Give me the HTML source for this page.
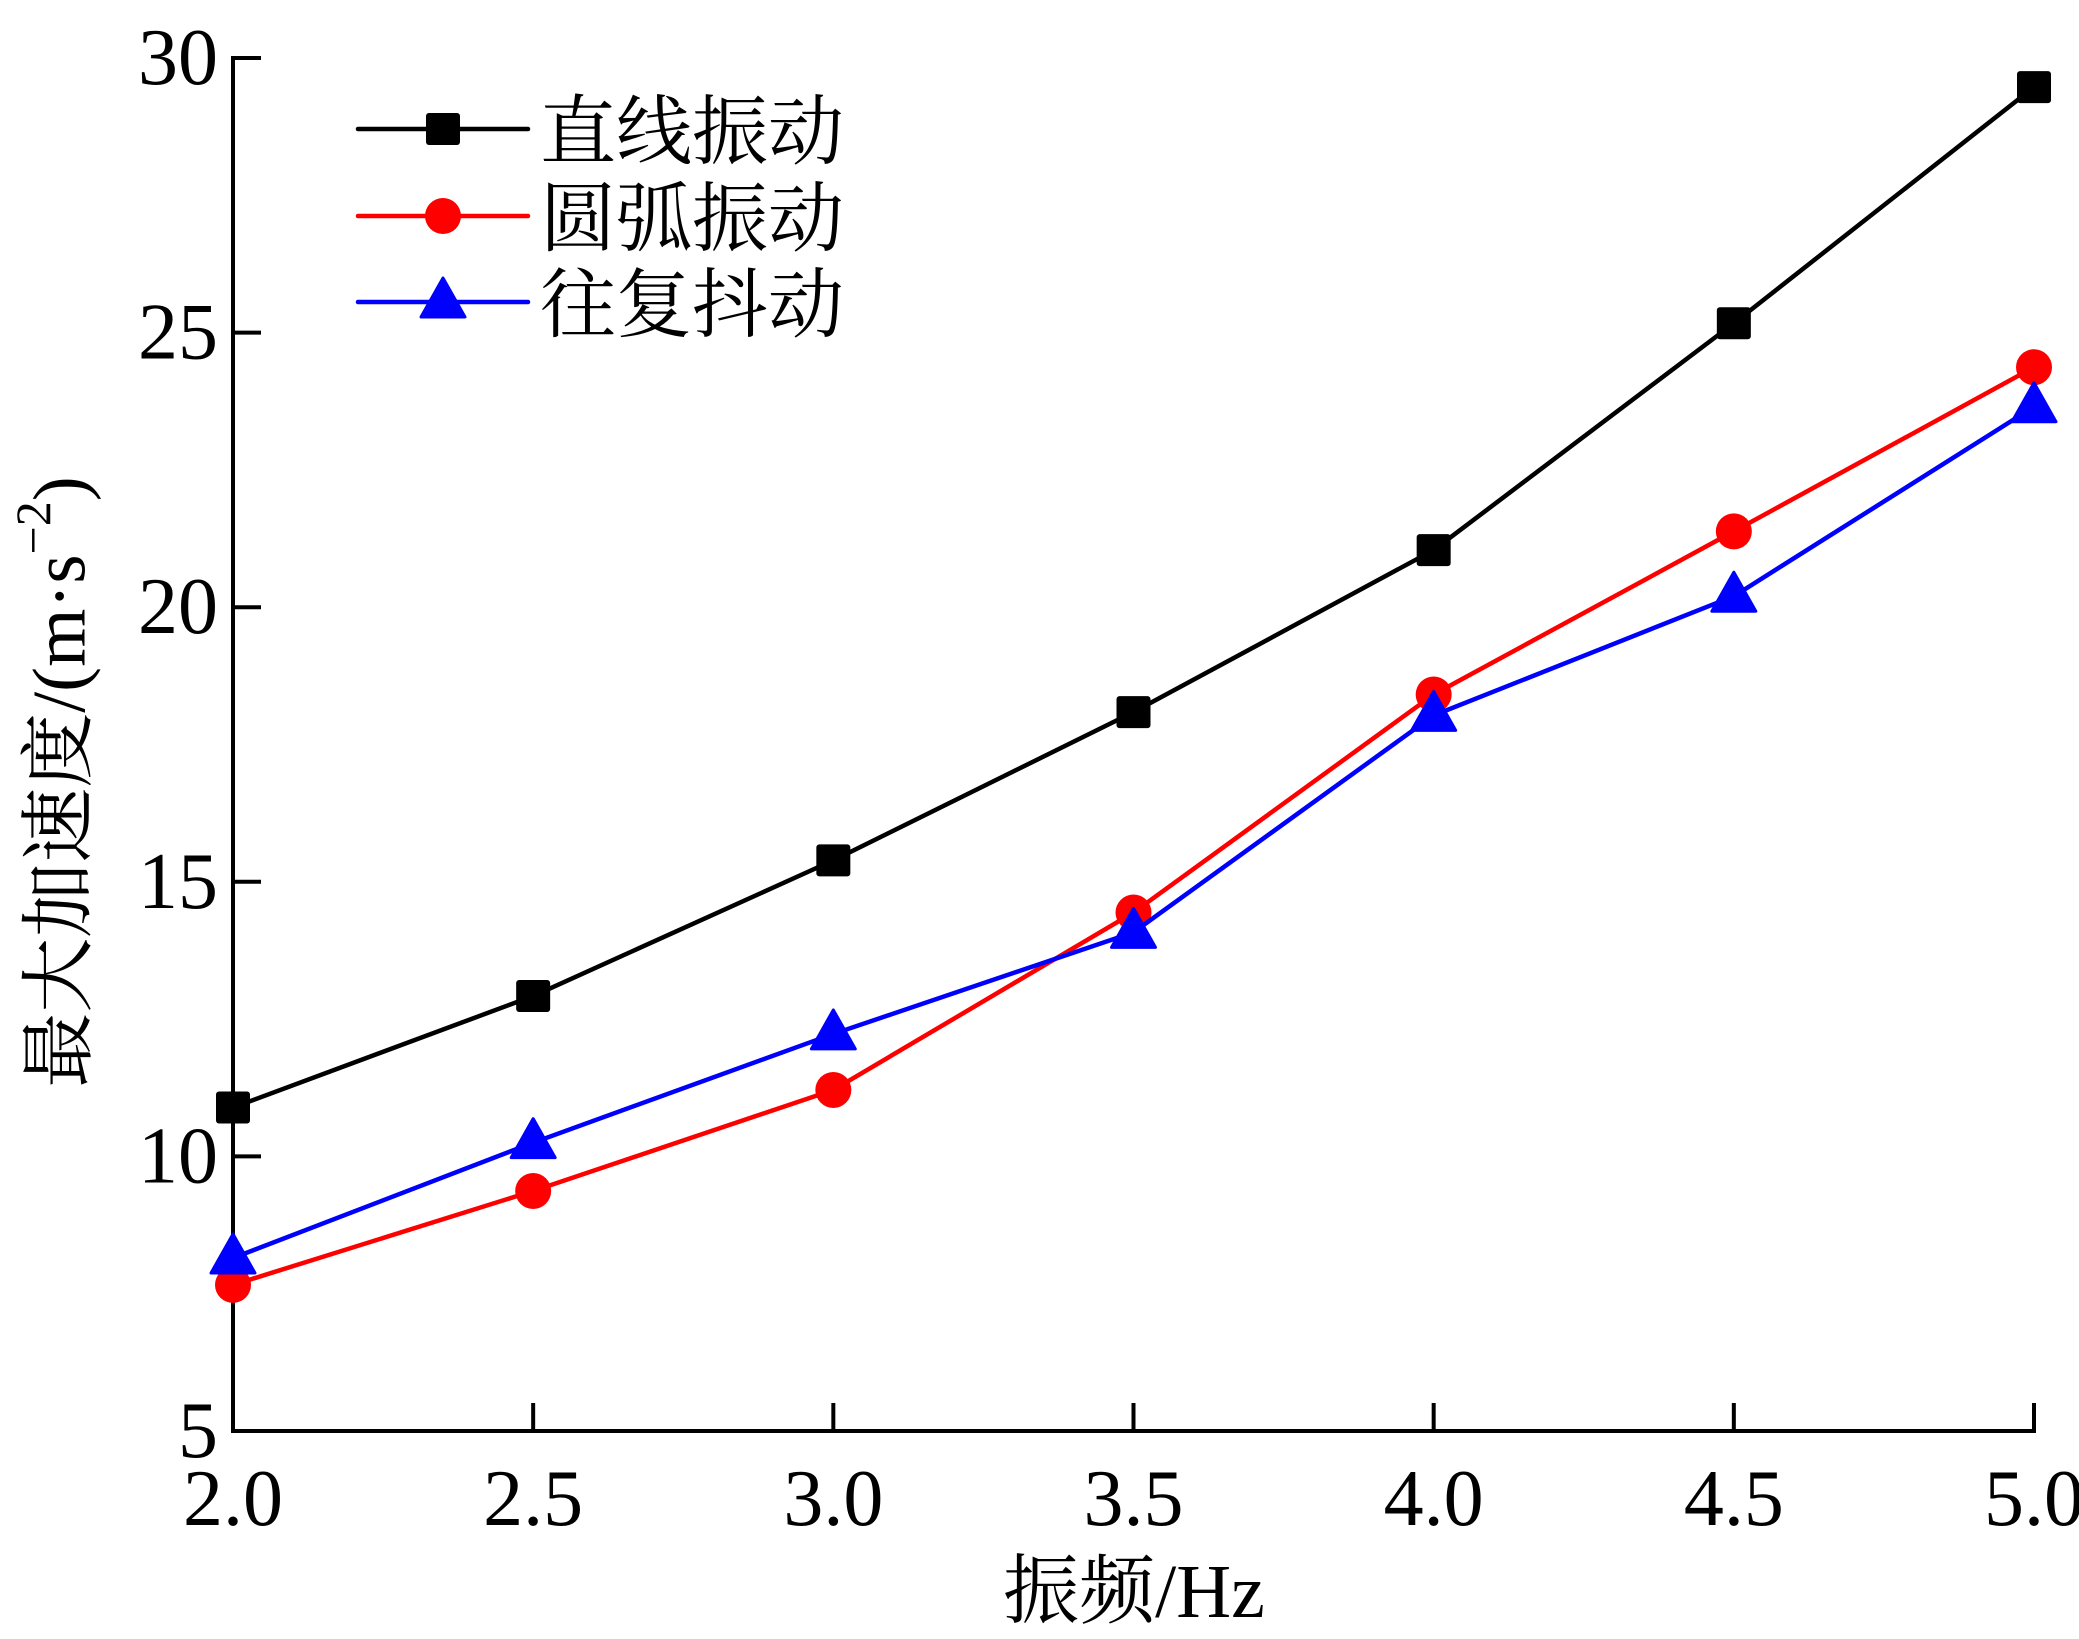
<!DOCTYPE html>
<html><head><meta charset="utf-8"><style>
html,body{margin:0;padding:0;background:#fff;}
svg{display:block;}
text{font-family:"Liberation Serif","Times New Roman","Noto Serif CJK SC",serif;fill:#000;}
</style></head><body>
<svg id="chart" width="2079" height="1639" viewBox="0 0 2079 1639">
<g id="axes"></g>
<g id="series"></g>
<g id="legend"></g>
<text x="60" y="782" font-size="75" text-anchor="middle" dominant-baseline="central" transform="rotate(-90 60 782)">最大加速度/(m·s<tspan font-size="50" dy="-27">−2</tspan><tspan dy="27">)</tspan></text>
<text x="1134" y="1592" font-size="76" text-anchor="middle" dominant-baseline="central">振频/Hz</text>
</svg>
<script>
const categories = [2.0, 2.5, 3.0, 3.5, 4.0, 4.5, 5.0];
const linearVib = [10.89, 12.92, 15.39, 18.09, 21.04, 25.17, 29.47];
const arcVib = [7.66, 9.37, 11.21, 14.44, 18.41, 21.38, 24.37];
const recipShake = [8.15, 10.25, 12.23, 14.08, 18.03, 20.2, 23.65];
const xTicks = ["2.0","2.5","3.0","3.5","4.0","4.5","5.0"];
const yTicks = ["5","10","15","20","25","30"];
const seriesNames = ["直线振动","圆弧振动","往复抖动"];

const NS = "http://www.w3.org/2000/svg";
const X0 = 233, X1 = 2034, Y0 = 1431, Y1 = 58;
function xs(v){ return X0 + (v - 2.0) / 3.0 * (X1 - X0); }
function ys(v){ return Y0 - (v - 5) / 25 * (Y0 - Y1); }
function mk(tag, attrs, parent){ const e = document.createElementNS(NS, tag); for (const k in attrs) e.setAttribute(k, attrs[k]); parent.appendChild(e); return e; }

const axes = document.getElementById('axes');
let a = mk('path', {d:`M${X0} ${Y1} V${Y0} H${X1}`, fill:'none', stroke:'#000', 'stroke-width':4, 'stroke-linecap':'square'}, axes);


xTicks.forEach(t => {
  const x = xs(parseFloat(t));
  const l = mk('line', {x1:x, x2:x, y1:Y0, y2:Y0-28, stroke:'#000','stroke-width':4}, axes);
  
  
  const tx = mk('text', {x:x, y:Y0+68, 'font-size':80, 'text-anchor':'middle', 'dominant-baseline':'central'}, axes);
  tx.textContent = t;
  
  
});
yTicks.forEach(t => {
  const y = ys(parseFloat(t));
  const l = mk('line', {x1:X0, x2:X0+28, y1:y, y2:y, stroke:'#000','stroke-width':4}, axes);
  
  
  const tx = mk('text', {x:218, y:y, 'font-size':80, 'text-anchor':'end', 'dominant-baseline':'central'}, axes);
  tx.textContent = t;
  
  
});

function marker(kind, cx, cy, color, parent){
  let e;
  if (kind === 'square') e = mk('rect', {x:cx-17, y:cy-16, width:34, height:32, rx:3, fill:color}, parent);
  else if (kind === 'circle') e = mk('circle', {cx:cx, cy:cy, r:18, fill:color}, parent);
  else e = mk('path', {d:`M${cx} ${cy-24} L${cx+22} ${cy+15} L${cx-22} ${cy+15} Z`, fill:color, 'stroke':color, 'stroke-linejoin':'round','stroke-width':3}, parent);
  return e;
}

const series = [
  {vals: linearVib, color:'#000000', kind:'square', key:'linear'},
  {vals: arcVib, color:'#ff0000', kind:'circle', key:'arc'},
  {vals: recipShake, color:'#0000ff', kind:'triangle', key:'recip'}
];
const sg = document.getElementById('series');
series.forEach(s => {
  const g = mk('g', {}, sg);
  
  
  const pts = s.vals.map((v,i) => `${xs(categories[i])},${ys(v)}`).join(' ');
  const pl = mk('polyline', {points:pts, fill:'none', stroke:s.color, 'stroke-width':4.5, 'stroke-linejoin':'round'}, g);
  
  
  s.vals.forEach((v,i) => {
    const m = marker(s.kind, xs(categories[i]), ys(v), s.color, g);
    
    
  });
});

const lg = document.getElementById('legend');
const legY = [129, 216, 302];
series.forEach((s, i) => {
  const g = mk('g', {}, lg);
  
  
  mk('line', {x1:358, x2:528, y1:legY[i], y2:legY[i], stroke:s.color, 'stroke-width':4.5, 'stroke-linecap':'round'}, g);
  marker(s.kind, 443, legY[i], s.color, g);
  const t = mk('text', {x:540, y:legY[i]+4, 'font-size':76, 'dominant-baseline':'central'}, g);
  t.textContent = seriesNames[i];
});
</script>
</body></html>
